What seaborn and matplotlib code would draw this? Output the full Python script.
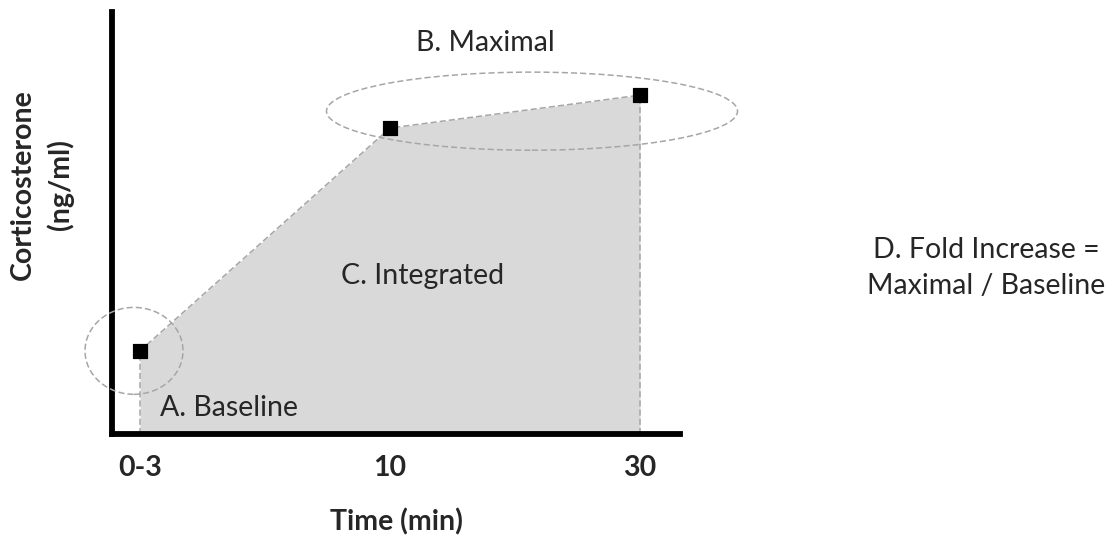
import numpy as np
import pandas as pd
import matplotlib
matplotlib.use("Agg")
import matplotlib.pyplot as plt
from matplotlib.patches import Ellipse
import seaborn as sns

# Data (schematic corticosterone response)
time_labels = ["0-3", "10", "30"]
time_pos = [0, 1, 2]
cort = [19.7, 72.5, 80.3]

df = pd.DataFrame({"pos": time_pos, "cort": cort})

sns.set_theme(style="white")
plt.rcParams["font.family"] = ["Lato", "DejaVu Sans"]

fig = plt.figure(figsize=(11.16, 5.38), dpi=100)
ax = fig.add_axes([112 / 1116, 104 / 538, 568 / 1116, 422 / 538])

GRAY = "#a6a6a6"
FILL = "#d9d9d9"
FS = 20.5

# shaded integrated area
ax.fill_between(df["pos"], 0, df["cort"], color=FILL, lw=0, zorder=1)
sns.lineplot(data=df, x="pos", y="cort", ax=ax, color=GRAY, lw=1.1,
             linestyle=(0, (4, 2)), zorder=2)
ax.vlines([df["pos"].iloc[0], df["pos"].iloc[-1]], 0, [df["cort"].iloc[0], df["cort"].iloc[-1]],
          colors=GRAY, lw=1.1, linestyles=(0, (4, 2)), zorder=2)
sns.scatterplot(data=df, x="pos", y="cort", ax=ax, marker="s", s=115,
                color="black", edgecolor="black", zorder=4)

# dashed ellipses for baseline and maximal
for center, w, h in [((-0.024, 19.7), 0.392, 20.6), ((1.568, 76.5), 1.644, 18.5)]:
    e = Ellipse(center, w, h, fill=False, ec=GRAY, lw=1.1, ls=(0, (4, 2)), zorder=3)
    e.set_clip_on(False)
    ax.add_patch(e)

ax.set_xlim(-0.112, 2.16)
ax.set_ylim(0, 100)
ax.set_xticks(time_pos)
ax.set_xticklabels(time_labels, fontsize=FS, fontweight="bold")
ax.set_yticks([])
ax.tick_params(axis="x", length=0, pad=15)
ax.set_xlabel("Time (min)", fontsize=FS, fontweight="bold", labelpad=20)
ax.set_ylabel("")
for side in ["top", "right"]:
    ax.spines[side].set_visible(False)
for side in ["left", "bottom"]:
    ax.spines[side].set_linewidth(4.2)
    ax.spines[side].set_color("black")

fig.text(42 / 1116, 1 - 185 / 538, "Corticosterone\n(ng/ml)", rotation=90,
         ha="center", va="center", fontsize=FS, fontweight="bold", linespacing=1.45)

ax.text(0.08, 6.2, "A. Baseline", fontsize=FS, ha="left", va="center")
ax.text(1.13, 37.5, "C. Integrated", fontsize=FS, ha="center", va="center")
fig.text(485 / 1116, 1 - 43 / 538, "B. Maximal", fontsize=FS, ha="center", va="center")
fig.text(986 / 1116, 1 - 268 / 538, "D. Fold Increase =\nMaximal / Baseline", fontsize=FS,
         ha="center", va="center", linespacing=1.45)

fig.savefig("out.png", dpi=100)
